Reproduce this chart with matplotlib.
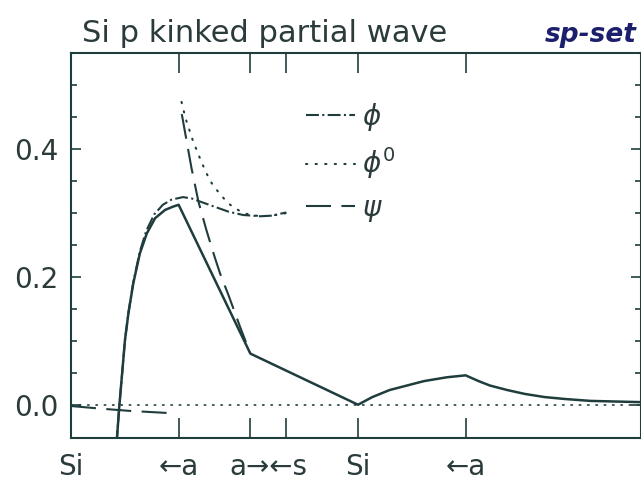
import numpy as np
import matplotlib
matplotlib.use("Agg")
import matplotlib.pyplot as plt

# positions along the bond, Si-Si distance = 1
kink_x = [0.157, 0.160, 0.168, 0.177, 0.188, 0.200, 0.217, 0.240, 0.264, 0.293, 0.328, 0.355,
          0.375, 0.625, 1.0, 1.05, 1.11, 1.17, 1.23, 1.31, 1.375, 1.42, 1.46, 1.52, 1.58,
          1.65, 1.72, 1.81, 1.90, 1.99]
kink_y = [-0.06, -0.053, -0.004, 0.043, 0.101, 0.143, 0.190, 0.237, 0.268, 0.292, 0.305, 0.310,
          0.313, 0.080, 0.0, 0.012, 0.023, 0.030, 0.037, 0.043, 0.046, 0.037, 0.030, 0.023, 0.017,
          0.012, 0.009, 0.006, 0.005, 0.004]

phi_x = [0.157, 0.160, 0.168, 0.177, 0.188, 0.200, 0.217, 0.240, 0.262, 0.290, 0.32, 0.35,
         0.39, 0.42, 0.45, 0.50, 0.55, 0.60, 0.66, 0.70, 0.75]
phi_y = [-0.06, -0.053, -0.004, 0.043, 0.101, 0.144, 0.192, 0.240, 0.272, 0.298, 0.313, 0.321,
         0.325, 0.323, 0.318, 0.310, 0.302, 0.297, 0.295, 0.296, 0.301]

phi0_x = [0.385, 0.40, 0.425, 0.45, 0.47, 0.49, 0.515, 0.54, 0.565, 0.59, 0.61, 0.63, 0.66, 0.70, 0.75]
phi0_y = [0.474, 0.447, 0.413, 0.385, 0.364, 0.347, 0.332, 0.319, 0.309, 0.303, 0.299, 0.297,
          0.295, 0.296, 0.300]

psi_in_x = [0.0, 0.1, 0.2, 0.34]
psi_in_y = [-0.002, -0.006, -0.0095, -0.013]
psi_out_x = [0.386, 0.40, 0.42, 0.444, 0.472, 0.50, 0.519, 0.55, 0.589, 0.625]
psi_out_y = [0.455, 0.420, 0.370, 0.318, 0.273, 0.232, 0.206, 0.170, 0.122, 0.080]

mark_pos = [0.375, 0.625, 0.75, 1.0, 1.375]
label_pos = [0.0, 0.375, 0.6875, 1.0, 1.375]
label_txt = ["Si", "\u2190a", "a\u2192\u2190s", "Si", "\u2190a"]

ink = "#1f3d3d"
txt = "#2b3b3b"

fig = plt.figure(figsize=(6.41, 4.84), dpi=100)
ax = fig.add_axes([71 / 641, 1 - 437.5 / 484, 1 - 71 / 641, (437.5 - 53) / 484])

ax.axhline(0.0, color=ink, lw=1.2, linestyle=(0, (0.8, 4.2)), dash_capstyle="round")

ax.plot(kink_x, kink_y, color=ink, lw=1.8)
ax.plot(phi_x, phi_y, color=ink, lw=1.5, linestyle=(0, (6.2, 1.6, 1.0, 1.6)), label=r"$\phi$")
ax.plot(phi0_x, phi0_y, color=ink, lw=1.5, linestyle=(0, (0.6, 4.0)), dash_capstyle="round",
        label=r"$\phi^0$")
ax.plot(psi_in_x, psi_in_y, color=ink, lw=1.5, linestyle=(0, (12, 5)))
ax.plot(psi_out_x, psi_out_y, color=ink, lw=1.5, linestyle=(0, (12, 5)), label=r"$\psi$")

ax.set_xlim(0, 1.986)
ax.set_ylim(-0.0513, 0.5506)

# labels sit on major ticks (no marks), the marks themselves are minor ticks
ax.xaxis.remove_overlapping_locs = False
ax.set_xticks(label_pos)
ax.set_xticklabels(label_txt)
ax.set_xticks(mark_pos, minor=True)
ax.tick_params(axis="x", which="major", length=0, pad=11, labelsize=20, labelcolor=txt)
ax.tick_params(axis="x", which="minor", direction="in", length=14.4, width=1.2,
               top=True, bottom=True, color=ink)

ax.set_yticks([0.0, 0.2, 0.4])
ax.set_yticklabels(["0.0", "0.2", "0.4"])
ax.set_yticks(np.arange(0.05, 0.55, 0.05), minor=True)
ax.tick_params(axis="y", which="major", direction="in", length=7, width=1.2,
               left=True, right=True, pad=9, labelsize=20, labelcolor=txt, color=ink)
ax.tick_params(axis="y", which="minor", direction="in", length=4.3, width=1.2,
               left=True, right=True, color=ink)

for s in ax.spines.values():
    s.set_color(ink)
    s.set_linewidth(1.5)

leg = ax.legend(loc="upper left", bbox_to_anchor=(0.412, 0.875), frameon=False, fontsize=20,
                handlelength=1.76, handletextpad=0.25, labelspacing=0.45,
                borderpad=0, borderaxespad=0)
for t in leg.get_texts():
    t.set_color(txt)

fig.text(82 / 641, 1 - 42 / 484, "Si p kinked partial wave", fontsize=22, color=txt,
         ha="left", va="baseline")
fig.text(545 / 641, 1 - 42 / 484, "sp-set", fontsize=19, color="#1c1f6b", style="italic",
         weight="bold", ha="left", va="baseline")

fig.savefig("out.png", dpi=100)
